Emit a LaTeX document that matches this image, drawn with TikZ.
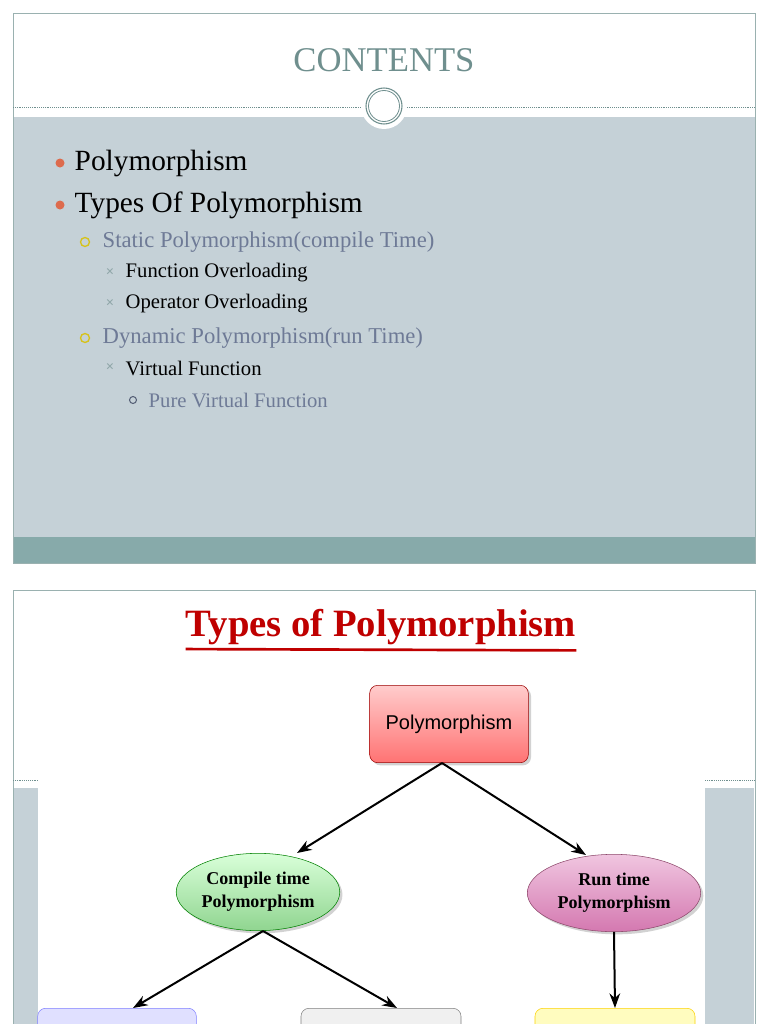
\documentclass[tikz,border=0pt]{standalone}
\usepackage{fontspec}
\setmainfont{Liberation Serif}
\newfontfamily\sansf{Liberation Sans}
\usetikzlibrary{shapes.geometric,arrows.meta,shadows}
\definecolor{slgray}{HTML}{C5D1D7}
\definecolor{slteal}{HTML}{87AAAA}
\definecolor{ttl}{HTML}{6F8F8E}
\definecolor{sub}{HTML}{6E7A96}
\definecolor{bul}{HTML}{DD6B4D}
\definecolor{yel}{HTML}{D6C21A}
\definecolor{mkx}{HTML}{8FA6A8}
\definecolor{pinkT}{HTML}{F0C6E0}
\definecolor{pinkB}{HTML}{D478B0}
\begin{document}
\begin{tikzpicture}[x=0.75pt,y=-0.75pt,
  lvA/.style={anchor=west,font=\fontsize{22}{26}\selectfont},
  lvB/.style={anchor=west,font=\fontsize{17}{20}\selectfont,text=sub},
  lvC/.style={anchor=west,font=\fontsize{15.5}{18}\selectfont},
  mk/.style={text=mkx,font=\fontsize{11}{12}\selectfont\bfseries},
  arr/.style={-{Stealth[length=11pt,width=8pt]},line width=1.5pt},
  shad/.style={drop shadow={shadow xshift=2pt,shadow yshift=-2pt,opacity=0.35}}]
\useasboundingbox (0,0) rectangle (768,1024);
\fill[white] (0,0) rectangle (768,1024);
% slide 1
\fill[slgray] (13,117) rectangle (755,537);
\fill[slteal] (13,537) rectangle (755,563);
\draw[ttl!70] (13,13) rectangle (755,563);
\draw[densely dotted,ttl] (13,107) -- (755,107);
\fill[white] (384,106) circle (23);
\draw[ttl,line width=0.8pt] (384,106) circle (18);
\draw[ttl,line width=0.6pt] (384,106) circle (15.5);
\node[text=ttl,font=\fontsize{26}{30}\selectfont] (title1) at (384,60) {CONTENTS};
\fill[bul] (60,163) circle (4.5);
\node[lvA] (p1) at (70,163) {Polymorphism};
\fill[bul] (60,205) circle (4.5);
\node[lvA] (p2) at (70,205) {Types Of Polymorphism};
\draw[yel,line width=1pt] (85,242) circle (4.5);
\node[lvB] (p3) at (98,242) {Static Polymorphism(compile Time)};
\node[mk] at (110,273) {×};
\node[lvC] (p4) at (121,273) {Function Overloading};
\node[mk] at (110,304) {×};
\node[lvC] (p5) at (121,304) {Operator Overloading};
\draw[yel,line width=1pt] (85,338) circle (4.5);
\node[lvB] (p6) at (98,338) {Dynamic Polymorphism(run Time)};
\node[mk] at (110,368) {×};
\node[lvC] (p7) at (121,368) {Virtual Function};
\draw[sub!80!black,line width=0.8pt] (133,400) circle (3.5);
\node[lvB,font=\fontsize{15.5}{18}\selectfont] (p8) at (144,400) {Pure Virtual Function};
% slide 2
\draw[ttl!70] (13,1030) -- (13,590) -- (755,590) -- (755,1030);
\fill[slgray] (14,788) rectangle (38,1024);
\fill[slgray] (705,788) rectangle (754,1024);
\draw[densely dotted,ttl] (13,780) -- (38,780) (705,780) -- (755,780);
\node[text=red!75!black,font=\fontsize{29}{32}\selectfont\bfseries,inner sep=0pt] (title2) at (381,627) {Types of Polymorphism};
\draw[red!75!black,line width=2pt] (title2.south west) ++(0,4) -- ([yshift=-4]title2.south east);
\node[draw=red!60!black,rounded corners=6pt,shad,
  top color=red!20,bottom color=red!55!white,minimum width=119pt,minimum height=58pt,
  font=\sansf\fontsize{15}{18}\selectfont] (poly) at (449,724) {Polymorphism};
\node[ellipse,draw=green!50!black,shad,top color=green!15!white,bottom color=green!45!gray!60!white,
  minimum width=110pt,minimum height=58pt,align=center,inner sep=1pt,font=\fontsize{13.5}{17}\selectfont\bfseries] (comp) at (258,892) {Compile time\\Polymorphism};
\node[ellipse,draw=magenta!50!black,shad,top color=pinkT,bottom color=pinkB,
  minimum width=130pt,minimum height=58pt,align=center,inner sep=1pt,font=\fontsize{13.5}{17}\selectfont\bfseries] (run) at (614,893) {Run time\\Polymorphism};
\node[draw=blue!50,rounded corners=6pt,fill=blue!12,minimum width=119pt,minimum height=40pt,anchor=north] (fo) at (117,1008) {};
\node[draw=gray,rounded corners=6pt,fill=gray!12,minimum width=120pt,minimum height=40pt,anchor=north] (oo) at (381,1008) {};
\node[draw=yellow!70!orange,rounded corners=6pt,fill=yellow!25,minimum width=120pt,minimum height=40pt,anchor=north] (vf) at (615,1008) {};
\coordinate (pb) at (442,763);
\coordinate (cb) at (263,931);
\draw[arr] (pb) -- (297,853);
\draw[arr] (pb) -- (586,855);
\draw[arr] (cb) -- (133,1008);
\draw[arr] (cb) -- (397,1008);
\draw[arr] (run.south) -- (vf.north);
\end{tikzpicture}
\end{document}
